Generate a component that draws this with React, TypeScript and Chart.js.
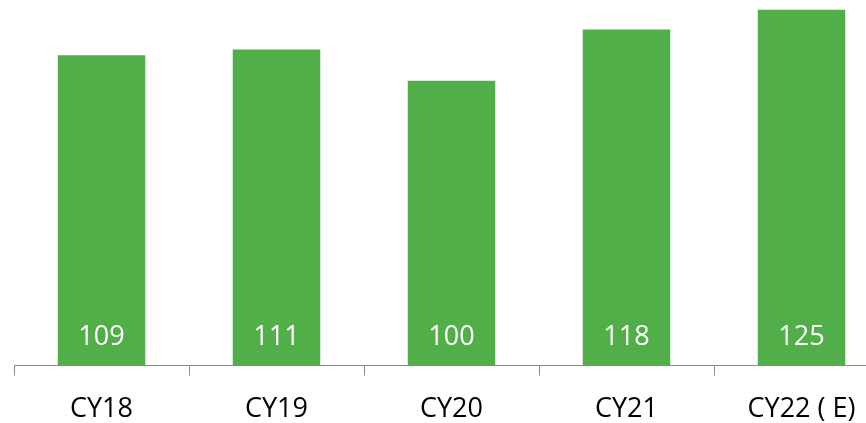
import React, { useEffect, useRef } from "react";
import { Chart, registerables } from "chart.js";

Chart.register(...registerables);

const categories = ["CY18", "CY19", "CY20", "CY21", "CY22 ( E)"];
const values = [109, 111, 100, 118, 125];

const FONT = "'Open Sans', 'Noto Sans', sans-serif";

const valueLabels = {
  id: "valueLabels",
  afterDatasetsDraw(chart: any) {
    const ctx = chart.ctx;
    const meta = chart.getDatasetMeta(0);
    const yScale = chart.scales.y;
    ctx.save();
    ctx.fillStyle = "#ffffff";
    ctx.font = `27px ${FONT}`;
    ctx.textAlign = "center";
    ctx.textBaseline = "middle";
    meta.data.forEach((bar: any, i: number) => {
      const base = yScale.getPixelForValue(0);
      ctx.fillText(String(values[i]), bar.x, base - 28);
    });
    ctx.restore();
  },
};

export default function App() {
  const ref = useRef<HTMLCanvasElement>(null);
  useEffect(() => {
    if (!ref.current) return;
    const chart = new Chart(ref.current, {
      type: "bar",
      data: {
        labels: categories,
        datasets: [
          {
            data: values,
            backgroundColor: "#52AE48",
            barPercentage: 0.5,
            categoryPercentage: 1,
          },
        ],
      },
      options: {
        animation: false,
        responsive: false,
        maintainAspectRatio: false,
        layout: { padding: { left: 14, top: 0, right: 0, bottom: 0 } },
        plugins: { legend: { display: false }, tooltip: { enabled: false } },
        scales: {
          y: { display: false, min: 0, max: 128.4 },
          x: {
            offset: true,
            border: { display: true, color: "#8c8c8c", width: 1 },
            grid: {
              offset: true,
              drawOnChartArea: false,
              drawTicks: true,
              tickLength: 10,
              color: "#8c8c8c",
            },
            ticks: {
              color: "#000000",
              font: { family: FONT, size: 27 },
              padding: 18,
              maxRotation: 0,
              autoSkip: false,
            },
          },
        },
      },
      plugins: [valueLabels],
    });
    return () => chart.destroy();
  }, []);
  return (
    <div
      style={{
        position: "fixed",
        left: 0,
        top: 0,
        width: 866,
        height: 423,
        overflow: "hidden",
        background: "#ffffff",
      }}
    >
      <canvas ref={ref} width={889} height={444} style={{ display: "block" }} />
    </div>
  );
}
